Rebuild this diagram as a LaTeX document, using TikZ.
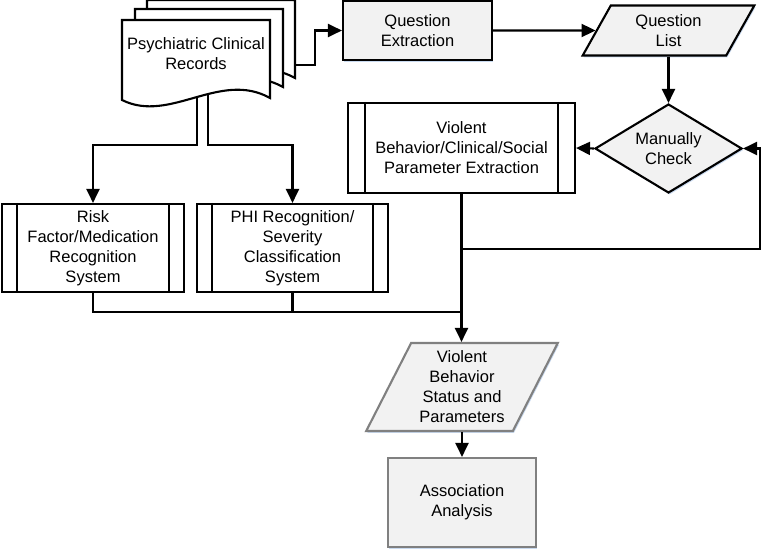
\documentclass[tikz,border=0pt]{standalone}
\usepackage{fontspec}
\setmainfont{Liberation Sans}
\usetikzlibrary{shapes.geometric,arrows.meta,shadows}
\definecolor{boxgray}{HTML}{F2F2F2}
\definecolor{rimgray}{HTML}{808080}
\definecolor{shadowblue}{HTML}{C9DAF0}

\begin{document}
\begin{tikzpicture}[x=1pt,y=-1pt,line width=2.1pt,
  arr/.style={-{Triangle[length=14pt,width=13pt]}},
  txt/.style={align=center,font=\fontsize{16.5}{20}\selectfont,inner sep=0pt},
  shad/.style={drop shadow={shadow xshift=1.2pt,shadow yshift=-1.8pt,fill=shadowblue,opacity=1}},
  proc/.style={txt,draw,fill=boxgray,shad},
  subproc/.style={txt,draw,fill=white},
  iobox/.style={txt,draw,fill=boxgray,shad,trapezium,trapezium stretches=true},
  page/.style={draw,fill=white}]
  \useasboundingbox (0,0) rectangle (766,551);
  \fill[white] (0,0) rectangle (766,551);

  % stack of records
  \foreach \dx/\dy in {25/-20,13/-11,0/0}{
    \begin{scope}[shift={(\dx,\dy)}]
      \draw[page] (122,20) -- (270,20) -- (270,98)
        .. controls (220,70) and (170,124) .. (122,100) -- cycle;
    \end{scope}
  }
  \node[txt] (doc) at (196,54) {Psychiatric Clinical\\Records};
  \coordinate (docA) at (197,97);
  \coordinate (docB) at (208,94);
  \coordinate (docout) at (295,65);

  \node[proc,minimum width=149pt,minimum height=59pt] (qe) at (417.5,30.5) {Question\\Extraction};
  \node[iobox,trapezium left angle=63.4,trapezium right angle=116.6,
        minimum width=173pt,minimum height=50pt] (ql) at (668.5,30.5) {Question\\List};
  \node[txt,draw,fill=boxgray,shad,diamond,minimum width=147pt,minimum height=89pt,aspect=1.65]
        (chk) at (668.5,148.5) {Manually\\Check};
  \node[subproc,minimum width=227pt,minimum height=90pt] (vbx) at (461.5,148)
        {Violent\\Behavior/Clinical/Social\\Parameter Extraction};
  \node[subproc,minimum width=182pt,minimum height=88pt] (risk) at (93,248)
        {Risk\\Factor/Medication\\Recognition\\System};
  \node[subproc,minimum width=191pt,minimum height=88pt] (phi) at (292.5,248)
        {PHI Recognition/\\Severity\\Classification\\System};
  \node[iobox,draw=rimgray,trapezium left angle=62.4,trapezium right angle=117.6,
        minimum width=192pt,minimum height=88pt] (vbs) at (462,387)
        {Violent\\Behavior\\Status and\\Parameters};
  \node[proc,draw=rimgray,minimum width=148pt,minimum height=89pt] (aa) at (462,502.5)
        {Association\\Analysis};

  % side bars of the predefined processes
  \foreach \n/\d in {vbx/18,risk/16,phi/16}{
    \draw ([xshift=\d pt]\n.north west) -- ([xshift=\d pt]\n.south west);
    \draw ([xshift=-\d pt]\n.north east) -- ([xshift=-\d pt]\n.south east);
  }

  \coordinate (j1) at (461.5,249);
  \coordinate (j2) at (461.5,312);

  \draw[arr] (docout) -- ++(20,0) |- (qe.west);
  \draw[arr] (qe.east) -- (ql.west);
  \draw[arr] (ql.center |- ql.south) -- (chk.north);
  \draw[arr] (chk.west) -- (vbx.east);
  \draw[arr] (docA) -- ++(0,48) -| (risk.north);
  \draw[arr] (docB) -- ++(0,51) -| (phi.north);
  \draw[arr] (j1) -- ++(298.5,0) |- (chk.east);
  \draw (risk.south) |- (j2);
  \draw (phi.south) -- (phi.south |- j2);
  \draw[arr] (vbx.south) -- (vbx.south |- vbs.north);
  \draw[arr] (aa.north |- vbs.south) -- (aa.north);
\end{tikzpicture}
\end{document}
